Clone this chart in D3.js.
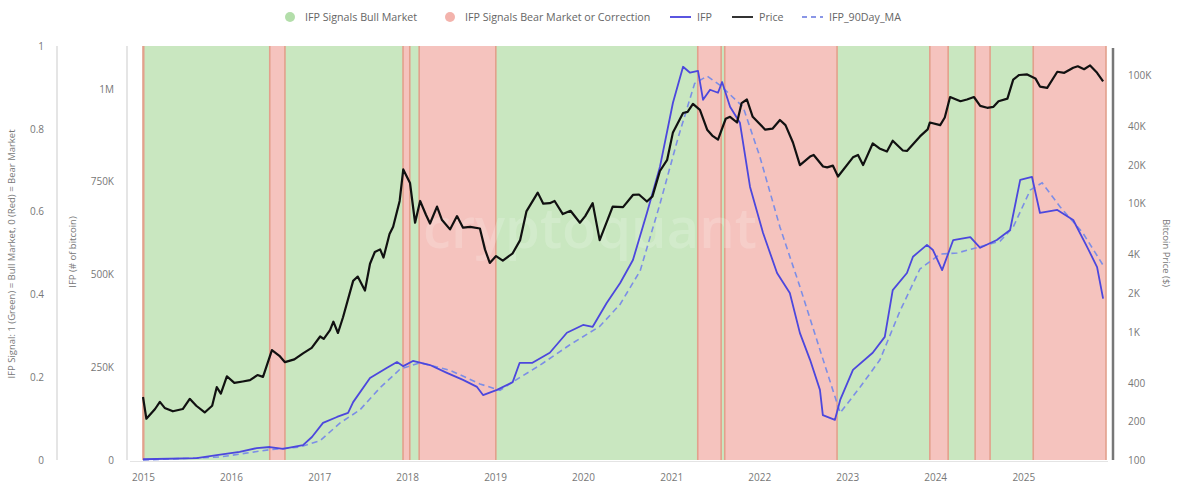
<!DOCTYPE html>
<html>
<head>
<meta charset="utf-8">
<script src="https://cdn.jsdelivr.net/npm/d3@7"></script>
<style>
  body { margin: 0; background: #fff; }
  svg { display: block; font-family: "Open Sans", sans-serif; }
</style>
</head>
<body>
<svg id="chart" width="1200" height="489"></svg>
<script>
// signal segments: value applies from signalDates[i] to signalDates[i+1]
var signalDates = ["2015-01-01", "2015-01-04", "2016-06-10", "2016-08-12", "2017-12-15", "2018-01-12",
  "2018-02-20", "2019-01-04", "2021-04-21", "2021-07-27", "2021-08-11", "2022-11-20", "2023-12-10",
  "2024-02-24", "2024-06-15", "2024-08-16", "2025-02-11", "2025-12-10"];
var signalValues = [0, 1, 0, 1, 0, 1, 0, 1, 0, 1, 0, 1, 0, 1, 0, 1, 0];

var priceDates = ["2015-01-01", "2015-01-15", "2015-02-20", "2015-03-12", "2015-04-01", "2015-05-05",
  "2015-06-15", "2015-07-14", "2015-08-10", "2015-09-14", "2015-10-15", "2015-11-03", "2015-11-20",
  "2015-12-15", "2016-01-15", "2016-02-19", "2016-03-20", "2016-04-20", "2016-05-13", "2016-06-19",
  "2016-07-20", "2016-08-12", "2016-09-20", "2016-10-26", "2016-12-01", "2017-01-05", "2017-01-20",
  "2017-02-15", "2017-03-01", "2017-03-20", "2017-04-10", "2017-05-22", "2017-06-10", "2017-07-10",
  "2017-07-31", "2017-08-20", "2017-09-11", "2017-09-25", "2017-10-20", "2017-11-04", "2017-12-01",
  "2017-12-16", "2018-01-13", "2018-02-03", "2018-02-24", "2018-03-20", "2018-04-06", "2018-05-05",
  "2018-05-25", "2018-06-28", "2018-07-27", "2018-08-21", "2018-09-20", "2018-10-30", "2018-11-20",
  "2018-12-10", "2019-01-05", "2019-02-02", "2019-03-15", "2019-04-15", "2019-05-11", "2019-06-27",
  "2019-07-20", "2019-08-16", "2019-09-05", "2019-10-09", "2019-11-10", "2019-12-19", "2020-01-10",
  "2020-02-10", "2020-03-10", "2020-05-03", "2020-06-15", "2020-07-26", "2020-08-20", "2020-09-22",
  "2020-10-15", "2020-11-15", "2020-12-15", "2021-01-08", "2021-02-19", "2021-03-10", "2021-04-01",
  "2021-04-30", "2021-05-30", "2021-06-20", "2021-07-14", "2021-08-15", "2021-09-02", "2021-10-01",
  "2021-10-20", "2021-11-11", "2021-12-05", "2022-01-26", "2022-02-25", "2022-03-28", "2022-04-20",
  "2022-05-21", "2022-06-19", "2022-07-31", "2022-08-15", "2022-09-23", "2022-10-10", "2022-11-03",
  "2022-11-24", "2023-01-25", "2023-02-15", "2023-03-08", "2023-04-17", "2023-05-15", "2023-06-15",
  "2023-07-09", "2023-08-20", "2023-09-06", "2023-10-30", "2023-12-01", "2023-12-10", "2024-01-22",
  "2024-02-10", "2024-03-03", "2024-04-15", "2024-05-12", "2024-06-10", "2024-07-06", "2024-08-04",
  "2024-08-30", "2024-09-20", "2024-10-27", "2024-11-20", "2024-12-15", "2025-01-17", "2025-02-20",
  "2025-03-11", "2025-04-10", "2025-05-22", "2025-06-20", "2025-07-27", "2025-08-15", "2025-09-10",
  "2025-10-05", "2025-11-03", "2025-11-28"];
var priceValues = [310, 210, 250, 284, 255, 240,
  250, 300, 265, 235, 265, 370, 330,
  450, 400, 410, 420, 460, 445, 720,
  650, 580, 610, 680, 750, 920, 880,
  1030, 1200, 980, 1300, 2500, 2700, 2100,
  3400, 4200, 4400, 3800, 5800, 6600, 10500,
  18500, 14500, 7100, 10500, 8200, 7000, 9500,
  7500, 6300, 8000, 6500, 6600, 6400, 4400,
  3450, 3900, 3600, 4100, 5200, 8700, 12200,
  10000, 10100, 10500, 8300, 8800, 7100, 8000,
  10100, 5200, 9500, 9400, 11700, 11800, 10400,
  11400, 18000, 22000, 36000, 51000, 52000, 60000,
  54000, 37800, 34000, 31600, 46000, 47600, 43000,
  61000, 65000, 47600, 37800, 38500, 45000, 41000,
  30000, 20000, 23300, 24000, 19500, 19200, 19800,
  16300, 23000, 24000, 20000, 29500, 27000, 25500,
  31000, 26000, 25800, 33500, 38000, 43000, 41000,
  47000, 68000, 63000, 65000, 68000, 58000, 56000,
  57000, 63000, 66000, 93000, 101000, 102000, 95000,
  82000, 80000, 107000, 105000, 115000, 118000, 112000,
  120000, 105000, 90000];

var ifpDates = ["2015-01-01", "2015-08-12", "2015-11-03", "2016-02-06", "2016-04-17", "2016-06-11",
  "2016-08-04", "2016-10-26", "2016-12-02", "2017-01-17", "2017-03-16", "2017-05-01", "2017-05-22",
  "2017-07-31", "2017-10-08", "2017-11-20", "2017-12-16", "2018-01-25", "2018-04-06", "2018-06-15",
  "2018-08-21", "2018-10-18", "2018-11-12", "2019-01-09", "2019-03-15", "2019-04-13", "2019-06-05",
  "2019-08-16", "2019-10-26", "2020-01-01", "2020-02-10", "2020-04-08", "2020-06-03", "2020-07-26",
  "2020-09-22", "2020-11-15", "2021-01-08", "2021-02-19", "2021-03-20", "2021-04-22", "2021-05-13",
  "2021-06-11", "2021-07-14", "2021-07-31", "2021-09-02", "2021-10-13", "2021-11-24", "2022-01-17",
  "2022-03-16", "2022-05-08", "2022-06-19", "2022-07-31", "2022-09-10", "2022-09-22", "2022-11-11",
  "2022-12-03", "2023-01-25", "2023-04-17", "2023-06-06", "2023-07-09", "2023-09-06", "2023-10-01",
  "2023-11-28", "2023-12-23", "2024-01-30", "2024-03-16", "2024-05-26", "2024-07-06", "2024-09-13",
  "2024-11-07", "2024-12-19", "2025-02-06", "2025-03-11", "2025-05-22", "2025-07-27", "2025-09-23",
  "2025-11-03", "2025-11-28"];
var ifpValues = [2000, 5000, 13000, 22000, 32000, 35000,
  30000, 40000, 62000, 100000, 116000, 127000, 156000,
  221000, 248000, 264000, 253000, 267000, 256000, 235000,
  216000, 197000, 175000, 189000, 210000, 262000, 262000,
  289000, 343000, 364000, 359000, 423000, 477000, 539000,
  666000, 790000, 963000, 1060000, 1044000, 1049000, 971000,
  998000, 990000, 1019000, 952000, 909000, 736000, 612000,
  504000, 450000, 342000, 270000, 189000, 121000, 108000,
  162000, 243000, 289000, 332000, 458000, 504000, 548000,
  580000, 566000, 512000, 593000, 601000, 572000, 593000,
  620000, 755000, 763000, 666000, 674000, 647000, 574000,
  520000, 435000];

var maDates = ["2015-01-01", "2015-11-15", "2016-06-11", "2016-10-13", "2017-01-05", "2017-03-29",
  "2017-06-19", "2017-09-11", "2017-12-03", "2018-02-24", "2018-06-28", "2018-10-30", "2019-01-21",
  "2019-04-13", "2019-07-05", "2019-11-06", "2020-03-10", "2020-06-03", "2020-08-25", "2020-11-15",
  "2021-01-30", "2021-04-08", "2021-05-30", "2021-07-23", "2021-10-26", "2022-01-04", "2022-03-28",
  "2022-06-19", "2022-09-10", "2022-12-03", "2023-02-24", "2023-05-17", "2023-08-07", "2023-10-30",
  "2024-01-22", "2024-04-01", "2024-07-06", "2024-09-27", "2024-11-20", "2025-01-30", "2025-03-20",
  "2025-06-03", "2025-09-05", "2025-11-28"];
var maValues = [0, 8000, 28000, 35000, 52000, 100000,
  135000, 195000, 245000, 262000, 242000, 205000, 188000,
  222000, 255000, 310000, 360000, 420000, 510000, 690000,
  870000, 1015000, 1035000, 1010000, 952000, 817000, 628000,
  467000, 297000, 127000, 197000, 270000, 400000, 515000,
  555000, 558000, 575000, 590000, 628000, 728000, 747000,
  682000, 612000, 525000];

var signalTicks = [0, 0.2, 0.4, 0.6, 0.8, 1];
var ifpTicks = [0, 250000, 500000, 750000, 1000000];
var ifpTickLabels = ["0", "250K", "500K", "750K", "1M"];
var priceTicks = [100, 200, 400, 1000, 2000, 4000, 10000, 20000, 40000, 100000];
var priceTickLabels = ["100", "200", "400", "1K", "2K", "4K", "10K", "20K", "40K", "100K"];

var parse = d3.timeParse("%Y-%m-%d");
var svg = d3.select("#chart");

var plotTop = 46, plotBottom = 460;
var x = d3.scaleTime()
  .domain([parse("2015-01-01"), parse("2025-12-10")])
  .range([143, 1106]);
var ySignal = d3.scaleLinear().domain([0, 1]).range([plotBottom, plotTop]);
var yIfp = d3.scaleLinear().domain([0, 1116000]).range([plotBottom, plotTop]);
var yPrice = d3.scaleLog().domain([100, 170000]).range([plotBottom, plotTop]);

var GREEN = "#c9e7c0", RED = "#f5c3be", EDGE = "#e3a08c";

// background bands
var segs = signalValues.map(function(v, i) {
  return { x0: parse(signalDates[i]), x1: parse(signalDates[i + 1]), v: v };
});
var bands = svg.append("g");
bands.selectAll("rect")
  .data(segs)
  .enter()
  .append("rect")
  .attr("x", function(d) { return x(d.x0); })
  .attr("width", function(d) { return Math.max(1, x(d.x1) - x(d.x0)); })
  .attr("y", plotTop)
  .attr("height", plotBottom - plotTop)
  .attr("fill", function(d) { return d.v ? GREEN : RED; });
// darker edges round the red segments
bands.selectAll(".edge")
  .data(segs.filter(function(d) { return !d.v; }).reduce(function(a, d) { return a.concat([d.x0, d.x1]); }, []))
  .enter()
  .append("line")
  .attr("class", "edge")
  .attr("x1", function(d) { return x(d); })
  .attr("x2", function(d) { return x(d); })
  .attr("y1", plotTop)
  .attr("y2", plotBottom)
  .attr("stroke", EDGE)
  .attr("stroke-width", 1.6);

// faint watermark
svg.append("text")
  .attr("x", 590).attr("y", 248)
  .attr("text-anchor", "middle")
  .style("font-size", "56px")
  .style("font-weight", "600")
  .attr("fill", "#fff")
  .attr("opacity", 0.18)
  .text("cryptoquant");

// bottom baseline
svg.append("line")
  .attr("x1", 130).attr("x2", 1108)
  .attr("y1", plotBottom + 1.5).attr("y2", plotBottom + 1.5)
  .attr("stroke", "#e4e4e4");

function series(dates, values) {
  return dates.map(function(d, i) { return { date: parse(d), v: values[i] }; });
}

var lineIfp = d3.line().x(function(d) { return x(d.date); }).y(function(d) { return yIfp(d.v); });
var linePrice = d3.line().x(function(d) { return x(d.date); }).y(function(d) { return yPrice(d.v); });

svg.append("path")
  .datum(series(maDates, maValues))
  .attr("d", lineIfp)
  .attr("fill", "none")
  .attr("stroke", "#7c8ee6")
  .attr("stroke-width", 1.6)
  .attr("stroke-dasharray", "6,4");

svg.append("path")
  .datum(series(ifpDates, ifpValues))
  .attr("d", lineIfp)
  .attr("fill", "none")
  .attr("stroke", "#4c47dd")
  .attr("stroke-width", 1.8)
  .attr("stroke-linejoin", "round");

svg.append("path")
  .datum(series(priceDates, priceValues))
  .attr("d", linePrice)
  .attr("fill", "none")
  .attr("stroke", "#111")
  .attr("stroke-width", 2.2)
  .attr("stroke-linejoin", "round");

// axes
var tickColor = "#777";
function styleAxis(g) {
  g.select(".domain").remove();
  g.selectAll(".tick line").remove();
  g.selectAll(".tick text").attr("fill", tickColor).style("font-size", "10px").style("font-family", "Open Sans, sans-serif");
}

svg.append("g")
  .attr("transform", "translate(44,0)")
  .call(d3.axisLeft(ySignal).tickValues(signalTicks).tickFormat(d3.format("~g")).tickSize(0).tickPadding(0))
  .call(styleAxis);

svg.append("g")
  .attr("transform", "translate(114,0)")
  .call(d3.axisLeft(yIfp).tickValues(ifpTicks).tickFormat(function(d, i) { return ifpTickLabels[i]; }).tickSize(0).tickPadding(0))
  .call(styleAxis);

svg.append("g")
  .attr("transform", "translate(1128,0)")
  .call(d3.axisRight(yPrice).tickValues(priceTicks).tickFormat(function(d, i) { return priceTickLabels[i]; }).tickSize(0).tickPadding(0))
  .call(styleAxis);

svg.append("g")
  .attr("transform", "translate(0,474)")
  .call(d3.axisBottom(x).ticks(d3.timeYear.every(1)).tickFormat(d3.timeFormat("%Y")).tickSize(0).tickPadding(0))
  .call(styleAxis);

// axis lines
svg.append("line").attr("x1", 57).attr("x2", 57).attr("y1", plotTop).attr("y2", plotBottom)
  .attr("stroke", "#ddd").attr("stroke-width", 1.5);
svg.append("line").attr("x1", 127).attr("x2", 127).attr("y1", plotTop).attr("y2", plotBottom)
  .attr("stroke", "#ddd").attr("stroke-width", 1.5);
svg.append("line").attr("x1", 1113).attr("x2", 1113).attr("y1", plotTop + 2).attr("y2", plotBottom)
  .attr("stroke", "#777").attr("stroke-width", 2.5);

// axis titles
function title(xp, yp, rot, txt) {
  svg.append("text")
    .attr("transform", "translate(" + xp + "," + yp + ") rotate(" + rot + ")")
    .attr("text-anchor", "middle")
    .attr("fill", "#777")
    .style("font-size", "9.5px")
    .text(txt);
}
title(15, 254, -90, "IFP Signal: 1 (Green) = Bull Market, 0 (Red) = Bear Market");
title(76, 252, -90, "IFP (# of bitcoin)");
title(1163, 253, 90, "Bitcoin Price ($)");

// legend
var legend = svg.append("g").style("font-size", "10.7px");
var items = [
  { type: "dot", color: "#b3deaa", x: 290, label: "IFP Signals Bull Market" },
  { type: "dot", color: "#f3b3ac", x: 450, label: "IFP Signals Bear Market or Correction" },
  { type: "line", color: "#5a55e0", x: 670, label: "IFP" },
  { type: "line", color: "#333", x: 732, label: "Price" },
  { type: "dash", color: "#8a96e6", x: 802, label: "IFP_90Day_MA" }
];
items.forEach(function(it) {
  var tx;
  if (it.type === "dot") {
    legend.append("circle").attr("cx", it.x).attr("cy", 17).attr("r", 5).attr("fill", it.color);
    tx = it.x + 15;
  } else {
    legend.append("line").attr("x1", it.x).attr("x2", it.x + 21).attr("y1", 17).attr("y2", 17)
      .attr("stroke", it.color).attr("stroke-width", 2)
      .attr("stroke-dasharray", it.type === "dash" ? "5,4" : null);
    tx = it.x + 27;
  }
  legend.append("text").attr("x", tx).attr("y", 20.7).attr("fill", "#666").text(it.label);
});
</script>
</body>
</html>
